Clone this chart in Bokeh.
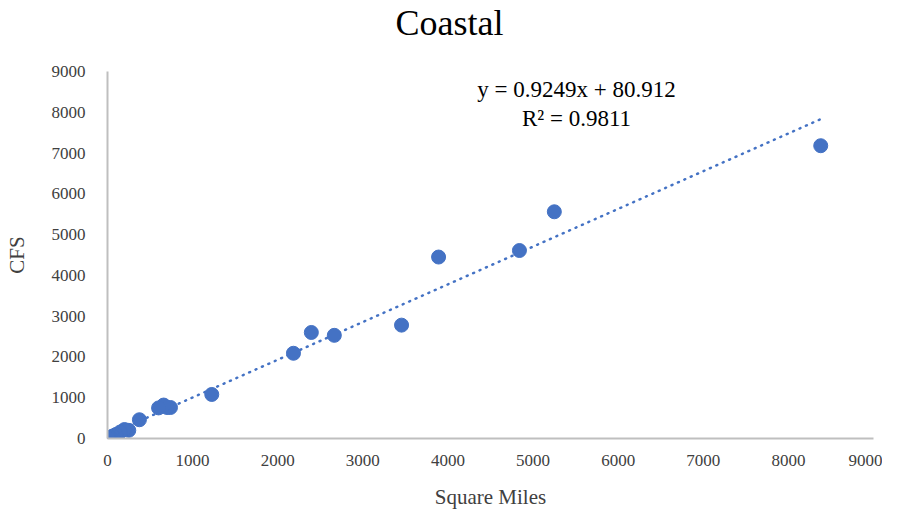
from bokeh.plotting import figure
from bokeh.models import Label, FixedTicker, Range1d, Title
from bokeh.embed import file_html
from bokeh.resources import INLINE

# data
square_miles = [8380, 5250, 4840, 3890, 3455, 2665, 2395, 2185, 1225,
                740, 700, 660, 600, 375, 250, 200, 150, 100, 60, 30, 10]
cfs = [7180, 5560, 4610, 4450, 2780, 2530, 2600, 2090, 1080,
       760, 760, 820, 750, 460, 200, 220, 160, 100, 60, 30, 10]
slope = 0.9249
intercept = 80.912
r_squared = 0.9811
ticks = [0, 1000, 2000, 3000, 4000, 5000, 6000, 7000, 8000, 9000]
title_text = "Coastal"

FONT = "Liberation Serif"
BLUE = "#4472C4"

p = figure(width=882, height=513, output_backend="svg", toolbar_location=None,
           x_range=Range1d(0, 9000), y_range=Range1d(0, 9000),
           min_border_left=107, min_border_right=9, min_border_top=71, min_border_bottom=75)
p.outline_line_color = None
p.xgrid.grid_line_color = None
p.ygrid.grid_line_color = None

# spacer between the plot area and the title
p.add_layout(Title(text=" ", text_font_size="1px", standoff=26), "above")
p.title = Title(text=title_text, align="left", offset=288, standoff=0,
                text_font=FONT, text_font_size="36px",
                text_font_style="normal", text_color="#000000")

for ax in (p.xaxis[0], p.yaxis[0]):
    ax.ticker = FixedTicker(ticks=ticks)
    ax.axis_line_color = "#bfbfbf"
    ax.axis_line_width = 2
    ax.major_tick_line_color = None
    ax.minor_tick_line_color = None
    ax.major_label_text_font = FONT
    ax.major_label_text_font_size = "17px"
    ax.major_label_text_color = "#404040"
    ax.axis_label_text_font = FONT
    ax.axis_label_text_font_size = "21px"
    ax.axis_label_text_font_style = "normal"
    ax.axis_label_text_color = "#404040"

p.xaxis.axis_label = "Square Miles"
p.yaxis.axis_label = "CFS"
p.xaxis.major_label_standoff = 10
p.yaxis.major_label_standoff = 16
p.xaxis.axis_label_standoff = 16
p.yaxis.axis_label_standoff = 20

xmin, xmax = min(square_miles), max(square_miles)
p.line([xmin, xmax], [slope * xmin + intercept, slope * xmax + intercept],
       line_color=BLUE, line_width=2.5, line_dash="1 6", line_cap="round")

p.scatter(square_miles, cfs, size=14, fill_color=BLUE, line_color=BLUE)

p.add_layout(Label(x=5511, y=8558, text=f"y = {slope}x + {intercept}", text_font=FONT,
                   text_font_size="23px", text_color="#000000",
                   text_align="center", text_baseline="middle"))
p.add_layout(Label(x=5511, y=7847, text=f"R² = {r_squared}", text_font=FONT,
                   text_font_size="23px", text_color="#000000",
                   text_align="center", text_baseline="middle"))

open("out.html", "w").write(file_html(p, INLINE))
